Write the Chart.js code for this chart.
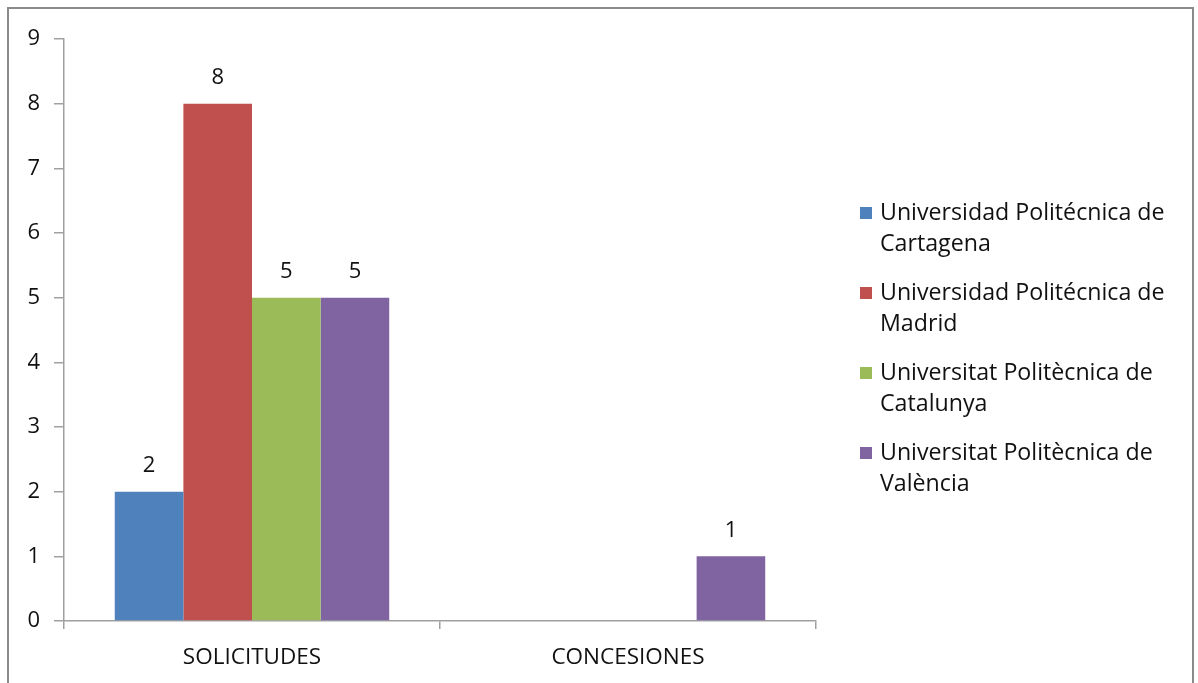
<!DOCTYPE html>
<html>
<head>
<meta charset="utf-8">
<script src="https://cdn.jsdelivr.net/npm/chart.js@4.4.1/dist/chart.umd.min.js"></script>
<style>
  html, body { margin: 0; padding: 0; background: #fff; }
  #wrap { position: relative; width: 1198px; height: 683px; overflow: hidden; }
  #frame { position: absolute; left: 7px; top: 7px; width: 1187px; height: 720px; border: 2px solid #8a8a8a; box-sizing: border-box; pointer-events: none; }
  canvas { position: absolute; left: 0; top: 0; }
  #legend { position: absolute; left: 860px; top: 196px; font-family: "Open Sans", sans-serif; font-size: 23.2px; line-height: 31px; color: #111; white-space: nowrap; }
  .item { position: relative; padding-left: 20px; margin-bottom: 18px; width: 320px; }
  .sw { position: absolute; left: 0; top: 11px; width: 12px; height: 12px; }
</style>
</head>
<body>
<div id="wrap">
  <canvas id="c" width="1198" height="683"></canvas>
  <div id="frame"></div>
  <div id="legend"></div>
</div>
<script>
const categories = ["SOLICITUDES", "CONCESIONES"];
const seriesNames = [
  ["Universidad Politécnica de", "Cartagena"],
  ["Universidad Politécnica de", "Madrid"],
  ["Universitat Politècnica de", "Catalunya"],
  ["Universitat Politècnica de", "València"]
];
const cartagena = [2, null];
const madrid = [8, null];
const catalunya = [5, null];
const valencia = [5, 1];
const yTicks = [0, 1, 2, 3, 4, 5, 6, 7, 8, 9];
const colors = ["#4F81BD", "#C0504D", "#9BBB59", "#8064A2"];

const FONT = "'Open Sans', sans-serif";
const seriesValues = [cartagena, madrid, catalunya, valencia];

const datasets = seriesValues.map((vals, i) => ({
  label: seriesNames[i].join(" "),
  data: vals,
  backgroundColor: colors[i],
  borderWidth: 0,
  categoryPercentage: 0.73,
  barPercentage: 1.0
}));

const valueLabels = {
  id: "valueLabels",
  afterDatasetsDraw(chart) {
    const ctx = chart.ctx;
    ctx.save();
    ctx.font = "22px " + FONT;
    ctx.fillStyle = "#111";
    ctx.textAlign = "center";
    ctx.textBaseline = "middle";
    chart.data.datasets.forEach((ds, di) => {
      const meta = chart.getDatasetMeta(di);
      meta.data.forEach((bar, j) => {
        const v = ds.data[j];
        if (v === null || v === undefined) return;
        ctx.fillText(String(v), bar.x, bar.y - 26);
      });
    });
    ctx.restore();
  }
};

new Chart(document.getElementById("c"), {
  type: "bar",
  data: { labels: categories, datasets },
  plugins: [valueLabels],
  options: {
    responsive: false,
    animation: false,
    layout: { padding: { top: 39, right: 382, left: 0, bottom: 0 } },
    plugins: { legend: { display: false }, tooltip: { enabled: false } },
    scales: {
      x: {
        grid: { display: true, drawOnChartArea: false, drawTicks: true, tickLength: 8, color: "#a0a0a0", lineWidth: 1.5, offset: true },
        border: { display: true, color: "#a0a0a0", width: 1.5 },
        ticks: { font: { family: FONT, size: 22.5 }, color: "#111", padding: 15 },
        afterFit(scale) { scale.height = 62; }
      },
      y: {
        min: 0, max: 9,
        afterBuildTicks(scale) { scale.ticks = yTicks.map(v => ({ value: v })); },
        grid: { display: true, drawOnChartArea: false, drawTicks: true, tickLength: 10, color: "#a0a0a0", lineWidth: 1.5 },
        border: { display: true, color: "#a0a0a0", width: 1.5 },
        ticks: { font: { family: FONT, size: 22 }, color: "#111", padding: 14, stepSize: 1 },
        afterFit(scale) { scale.width = 64; }
      }
    }
  }
});

const legend = document.getElementById("legend");
seriesNames.forEach((lines, i) => {
  const item = document.createElement("div");
  item.className = "item";
  const sw = document.createElement("span");
  sw.className = "sw";
  sw.style.background = colors[i];
  item.appendChild(sw);
  lines.forEach(t => {
    const d = document.createElement("div");
    d.textContent = t;
    item.appendChild(d);
  });
  legend.appendChild(item);
});
</script>
</body>
</html>
